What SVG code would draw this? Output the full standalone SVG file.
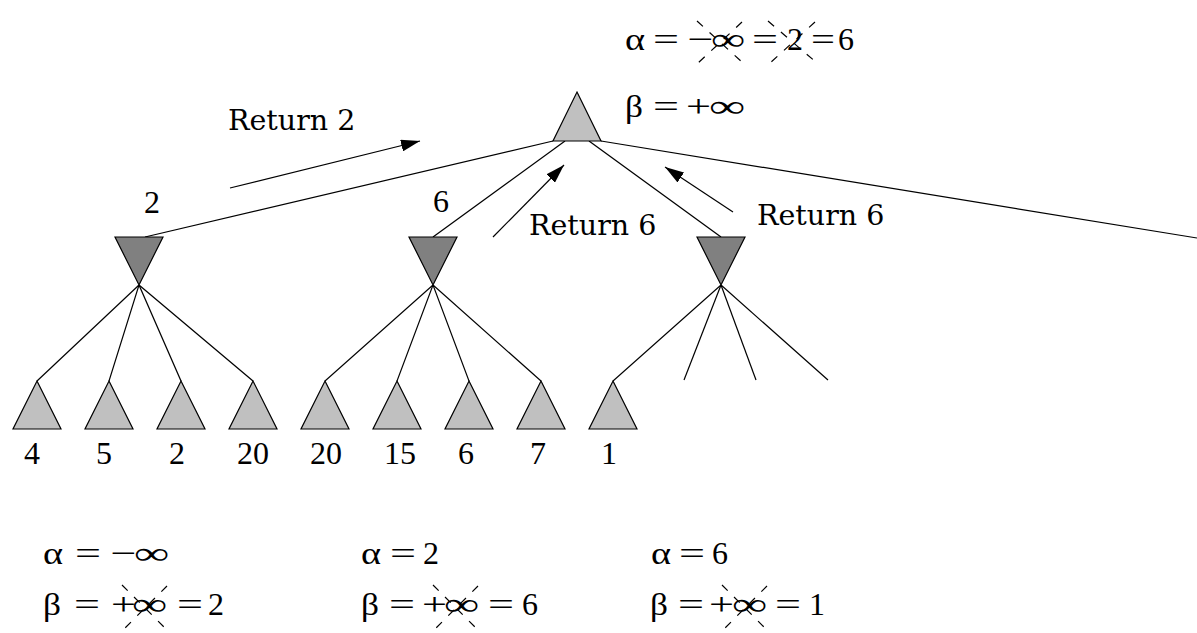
<svg xmlns="http://www.w3.org/2000/svg" width="1197" height="633" viewBox="0 0 1197 633">
<defs>
<style>
.max{fill:#c0c0c0;stroke:#000;stroke-width:1.2}
.min{fill:#808080;stroke:#000;stroke-width:1.2}
.edge{stroke:#000;stroke-width:1.2;fill:none}
.arr{stroke:#000;stroke-width:1.2;fill:none;marker-end:url(#ah)}
.ret{font-family:"DejaVu Serif",serif;font-size:28.5px;fill:#000}
.num{font-family:"Liberation Serif",serif;font-size:32px;fill:#000;text-anchor:middle}
.m{font-family:"Liberation Serif",serif;font-size:32px;fill:#000}
.mc{font-family:"Liberation Serif",serif;font-size:32px;fill:#000;text-anchor:middle}
.x{stroke:#000;stroke-width:1.2;stroke-dasharray:8,9;fill:none}
</style>
<marker id="ah" markerUnits="userSpaceOnUse" markerWidth="20" markerHeight="12" refX="19" refY="6" orient="auto">
<path d="M0,0 L19,6 L0,12 z" fill="#000"/>
</marker>
</defs>
<rect width="1197" height="633" fill="#fff"/>

<g id="connectors">
<line class="edge" x1="553" y1="141" x2="145" y2="237"/>
<line class="edge" x1="565" y1="141" x2="433" y2="237"/>
<line class="edge" x1="589" y1="141" x2="721" y2="237"/>
<line class="edge" x1="601" y1="141" x2="1197" y2="238"/>
<line class="edge" x1="139" y1="285" x2="37" y2="381"/>
<line class="edge" x1="139" y1="285" x2="109" y2="381"/>
<line class="edge" x1="139" y1="285" x2="181" y2="381"/>
<line class="edge" x1="139" y1="285" x2="253" y2="381"/>
<line class="edge" x1="433" y1="285" x2="325" y2="381"/>
<line class="edge" x1="433" y1="285" x2="397" y2="381"/>
<line class="edge" x1="433" y1="285" x2="469" y2="381"/>
<line class="edge" x1="433" y1="285" x2="541" y2="381"/>
<line class="edge" x1="721" y1="285" x2="613" y2="381"/>
<line class="edge" x1="721" y1="285" x2="684" y2="380"/>
<line class="edge" x1="721" y1="285" x2="756" y2="380"/>
<line class="edge" x1="721" y1="285" x2="828" y2="380"/>
<line class="arr" x1="230" y1="188" x2="420" y2="141"/>
<line class="arr" x1="493" y1="237" x2="564" y2="165"/>
<line class="arr" x1="733" y1="212" x2="665" y2="167"/>
</g>

<g id="root"><polygon class="max" points="577,92 601,141 553,141"/></g>
<g id="min1"><polygon class="min" points="115,237 163,237 139,285"/></g>
<g id="min2"><polygon class="min" points="409,237 457,237 433,285"/></g>
<g id="min3"><polygon class="min" points="697,237 745,237 721,285"/></g>
<g id="leaf1"><polygon class="max" points="37,381 61,429 13,429"/></g>
<g id="leaf2"><polygon class="max" points="109,381 133,429 85,429"/></g>
<g id="leaf3"><polygon class="max" points="181,381 205,429 157,429"/></g>
<g id="leaf4"><polygon class="max" points="253,381 277,429 229,429"/></g>
<g id="leaf5"><polygon class="max" points="325,381 349,429 301,429"/></g>
<g id="leaf6"><polygon class="max" points="397,381 421,429 373,429"/></g>
<g id="leaf7"><polygon class="max" points="469,381 493,429 445,429"/></g>
<g id="leaf8"><polygon class="max" points="541,381 565,429 517,429"/></g>
<g id="leaf9"><polygon class="max" points="613,381 637,429 589,429"/></g>

<g id="labels">
<text class="ret" x="228" y="130">Return 2</text>
<text class="ret" x="529" y="235">Return 6</text>
<text class="ret" x="757" y="225">Return 6</text>
<text class="num" x="152" y="213">2</text>
<text class="num" x="441" y="212">6</text>
<text class="num" x="32" y="464">4</text>
<text class="num" x="104" y="464">5</text>
<text class="num" x="177" y="464">2</text>
<text class="num" x="253" y="464">20</text>
<text class="num" x="326" y="464">20</text>
<text class="num" x="400" y="464">15</text>
<text class="num" x="466" y="464">6</text>
<text class="num" x="538" y="464">7</text>
<text class="num" x="609" y="464">1</text>
</g>

<g id="top-alpha">
<text class="m" x="625" y="50" textLength="20" lengthAdjust="spacingAndGlyphs">α</text>
<text class="m" x="653" y="50" textLength="26" lengthAdjust="spacingAndGlyphs">=</text>
<text class="m" x="687" y="50" textLength="26" lengthAdjust="spacingAndGlyphs">−</text>
<text class="m" x="711" y="50" textLength="34" lengthAdjust="spacingAndGlyphs">∞</text>
<text class="m" x="752" y="50" textLength="26" lengthAdjust="spacingAndGlyphs">=</text>
<text class="mc" x="795" y="50">2</text>
<text class="m" x="811" y="50" textLength="24" lengthAdjust="spacingAndGlyphs">=</text>
<text class="mc" x="846" y="50">6</text>
<line class="x" x1="697" y1="21" x2="743" y2="63"/>
<line class="x" x1="742" y1="22" x2="697" y2="64"/>
<line class="x" x1="768" y1="21" x2="817" y2="63"/>
<line class="x" x1="815" y1="22" x2="769" y2="64"/>
</g>
<g id="top-beta">
<text class="m" x="625" y="117" textLength="18" lengthAdjust="spacingAndGlyphs">β</text>
<text class="m" x="653" y="117" textLength="26" lengthAdjust="spacingAndGlyphs">=</text>
<text class="m" x="686" y="117" textLength="25" lengthAdjust="spacingAndGlyphs">+</text>
<text class="m" x="709" y="117" textLength="36" lengthAdjust="spacingAndGlyphs">∞</text>
</g>

<g id="bottom1">
<text class="m" x="43" y="564" textLength="20" lengthAdjust="spacingAndGlyphs">α</text>
<text class="m" x="75" y="564" textLength="26" lengthAdjust="spacingAndGlyphs">=</text>
<text class="m" x="110" y="564" textLength="26" lengthAdjust="spacingAndGlyphs">−</text>
<text class="m" x="134" y="564" textLength="35" lengthAdjust="spacingAndGlyphs">∞</text>
<text class="m" x="43" y="615" textLength="18" lengthAdjust="spacingAndGlyphs">β</text>
<text class="m" x="74" y="615" textLength="26" lengthAdjust="spacingAndGlyphs">=</text>
<text class="m" x="111" y="615" textLength="25" lengthAdjust="spacingAndGlyphs">+</text>
<text class="m" x="132" y="615" textLength="35" lengthAdjust="spacingAndGlyphs">∞</text>
<text class="m" x="177" y="615" textLength="26" lengthAdjust="spacingAndGlyphs">=</text>
<text class="mc" x="216" y="615">2</text>
<line class="x" x1="122" y1="585" x2="166" y2="629"/>
<line class="x" x1="167" y1="586" x2="123" y2="630"/>
</g>
<g id="bottom2">
<text class="m" x="361" y="564" textLength="20" lengthAdjust="spacingAndGlyphs">α</text>
<text class="m" x="390" y="564" textLength="26" lengthAdjust="spacingAndGlyphs">=</text>
<text class="mc" x="431" y="564">2</text>
<text class="m" x="361" y="615" textLength="18" lengthAdjust="spacingAndGlyphs">β</text>
<text class="m" x="389" y="615" textLength="26" lengthAdjust="spacingAndGlyphs">=</text>
<text class="m" x="422" y="615" textLength="25" lengthAdjust="spacingAndGlyphs">+</text>
<text class="m" x="444" y="615" textLength="35" lengthAdjust="spacingAndGlyphs">∞</text>
<text class="m" x="488" y="615" textLength="26" lengthAdjust="spacingAndGlyphs">=</text>
<text class="mc" x="530" y="615">6</text>
<line class="x" x1="433" y1="585" x2="477" y2="629"/>
<line class="x" x1="478" y1="586" x2="434" y2="630"/>
</g>
<g id="bottom3">
<text class="m" x="651" y="564" textLength="20" lengthAdjust="spacingAndGlyphs">α</text>
<text class="m" x="679" y="564" textLength="26" lengthAdjust="spacingAndGlyphs">=</text>
<text class="mc" x="720" y="564">6</text>
<text class="m" x="650" y="615" textLength="18" lengthAdjust="spacingAndGlyphs">β</text>
<text class="m" x="678" y="615" textLength="26" lengthAdjust="spacingAndGlyphs">=</text>
<text class="m" x="709" y="615" textLength="25" lengthAdjust="spacingAndGlyphs">+</text>
<text class="m" x="732" y="615" textLength="35" lengthAdjust="spacingAndGlyphs">∞</text>
<text class="m" x="775" y="615" textLength="26" lengthAdjust="spacingAndGlyphs">=</text>
<text class="mc" x="817" y="615">1</text>
<line class="x" x1="722" y1="585" x2="766" y2="629"/>
<line class="x" x1="767" y1="586" x2="723" y2="630"/>
</g>
</svg>
